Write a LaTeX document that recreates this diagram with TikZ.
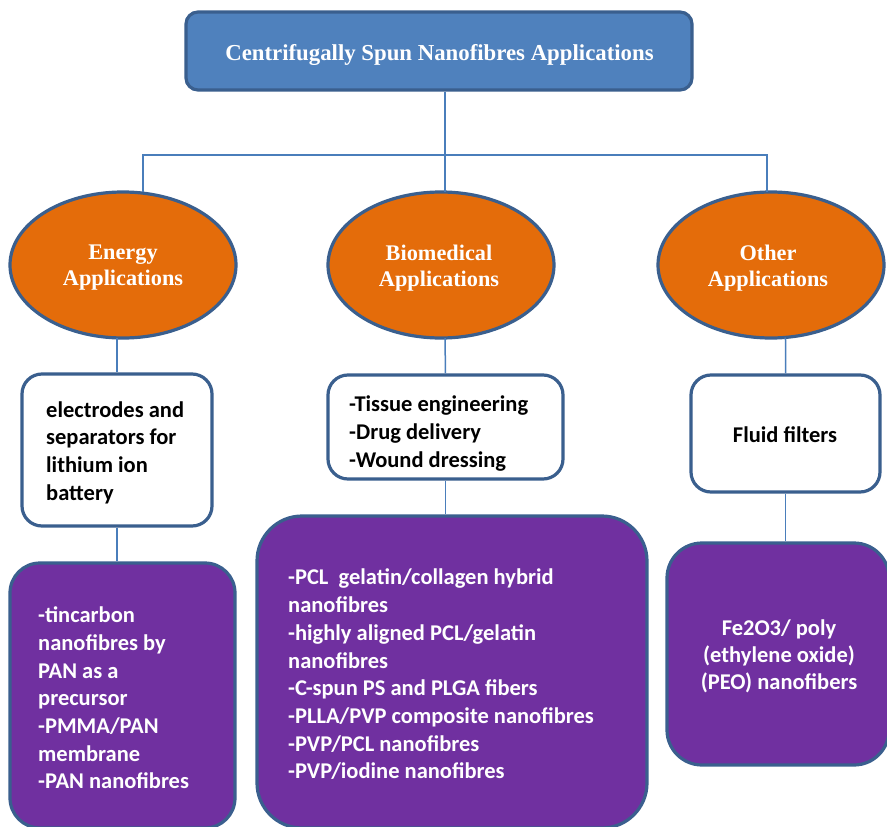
\documentclass[tikz,border=0pt]{standalone}
\usepackage{fontspec}
\setmainfont{Liberation Serif}
\newfontfamily\calib{Carlito}
\usetikzlibrary{shapes.geometric,calc}
\definecolor{titleblue}{HTML}{4F81BD}
\definecolor{bordblue}{HTML}{3A5F8E}
\definecolor{orangefill}{HTML}{E46C0A}
\definecolor{purplefill}{HTML}{7030A0}
\definecolor{connblue}{HTML}{4A7EBB}
\tikzset{
  titlebox/.style={draw=bordblue, line width=3.2pt, fill=titleblue, rounded corners=12pt,
    minimum width=506pt, minimum height=78pt, inner sep=0pt},
  titletext/.style={inner sep=0pt, text=white, font=\bfseries\fontsize{22.8}{26}\selectfont},
  appell/.style={ellipse, draw=bordblue, line width=3.2pt, fill=orangefill,
    minimum width=226pt, minimum height=146pt, inner sep=0pt},
  elltext/.style={inner sep=0pt, text=white, align=flush center,
    font=\bfseries\fontsize{22.3}{26}\selectfont},
  whitebox/.style={draw=bordblue, line width=3.2pt, fill=white, rounded corners=20pt, inner sep=0pt},
  purplebox/.style={draw=bordblue, line width=3.2pt, fill=purplefill, inner sep=0pt},
  boxtext/.style={inner sep=0pt, align=flush left, anchor=west,
    font=\calib\bfseries\fontsize{22.5}{27.7}\selectfont},
  ctrtext/.style={inner sep=0pt, align=flush center,
    font=\calib\bfseries\fontsize{22.5}{27.2}\selectfont},
  conn/.style={draw=connblue, line width=1.5pt},
}
\begin{document}
\begin{tikzpicture}[x=1pt,y=-1pt]
\useasboundingbox (0,0) rectangle (887,827);
\clip (0,0) rectangle (887,827);
\fill[white] (0,0) rectangle (887,827);

% top
\node[titlebox] (title) at (439,51) {};
\node[titletext] (titlet) at (439.5,55) {Centrifugally Spun Nanofibres Applications};
\coordinate (j) at (445,155);

% ellipses
\node[appell] (e1) at (123,265) {};
\node[appell] (e2) at (441,265) {};
\node[appell] (e3) at (771,265) {};
\node[elltext] (e1t) at (123,268) {Energy\\Applications};
\node[elltext] (e2t) at (439,268) {Biomedical\\Applications};
\node[elltext] (e3t) at (768,268) {Other\\Applications};

% white boxes
\node[whitebox, minimum width=190pt, minimum height=152pt] (b1) at (117,450) {};
\node[whitebox, minimum width=235pt, minimum height=104pt] (b2) at (445.5,427) {};
\node[whitebox, minimum width=189pt, minimum height=117pt] (b3) at (785.5,433.5) {};
\node[boxtext, text width=160pt, text=black] (b1t) at (46,452.5)
  {electrodes and\\separators for\\lithium ion\\battery};
\node[boxtext, text width=210pt, text=black] (b2t) at (349,433.5)
  {-Tissue engineering\\-Drug delivery\\-Wound dressing};
\node[ctrtext, text=black] (b3t) at (785,434.5) {Fluid filters};

% purple boxes
\node[purplebox, rounded corners=30pt, minimum width=225pt, minimum height=265pt] (p1) at (122.5,695.5) {};
\node[purplebox, rounded corners=45pt, minimum width=390pt, minimum height=312pt] (p2) at (452,672) {};
\node[purplebox, rounded corners=35pt, minimum width=222pt, minimum height=222pt] (p3) at (778,654) {};
\node[boxtext, text width=190pt, text=white] (p1t) at (38,698)
  {-tincarbon\\nanofibres by\\PAN as a\\precursor\\-PMMA/PAN\\membrane\\-PAN nanofibres};
\node[boxtext, text width=350pt, text=white] (p2t) at (288,674.5)
  {-PCL\ \ gelatin/collagen hybrid\\nanofibres\\-highly aligned PCL/gelatin\\nanofibres\\-C-spun PS and PLGA fibers\\-PLLA/PVP composite nanofibres\\-PVP/PCL nanofibres\\-PVP/iodine nanofibres};
\node[ctrtext, text=white] (p3t) at (779,656.5)
  {Fe2O3/ poly\\(ethylene oxide)\\(PEO) nanofibers};

% connectors
\draw[conn] ([xshift=6pt]title.south) -- (j);
\draw[conn] ([xshift=20pt,yshift=-1.5pt]e1.north) |- (j) -| ([xshift=-4pt,yshift=-1.5pt]e3.north);
\draw[conn] (j) -- ([xshift=4pt,yshift=-1.5pt]e2.north);
\draw[conn] ([xshift=-6pt,yshift=1.5pt]e1.south) -- (e1.south -| b1.north) -- (b1.north);
\draw[conn] (b1.south) -- (b1.south |- p1.north);
\draw[conn] ([xshift=4pt,yshift=1.5pt]e2.south) -- (b2.north);
\draw[conn] (b2.south) -- (b2.south |- p2.north);
\draw[conn] ([xshift=14pt,yshift=2pt]e3.south) -- (e3.south -| b3.north) -- (b3.north);
\draw[conn] (b3.south) -- (b3.south |- p3.north);
\end{tikzpicture}
\end{document}
